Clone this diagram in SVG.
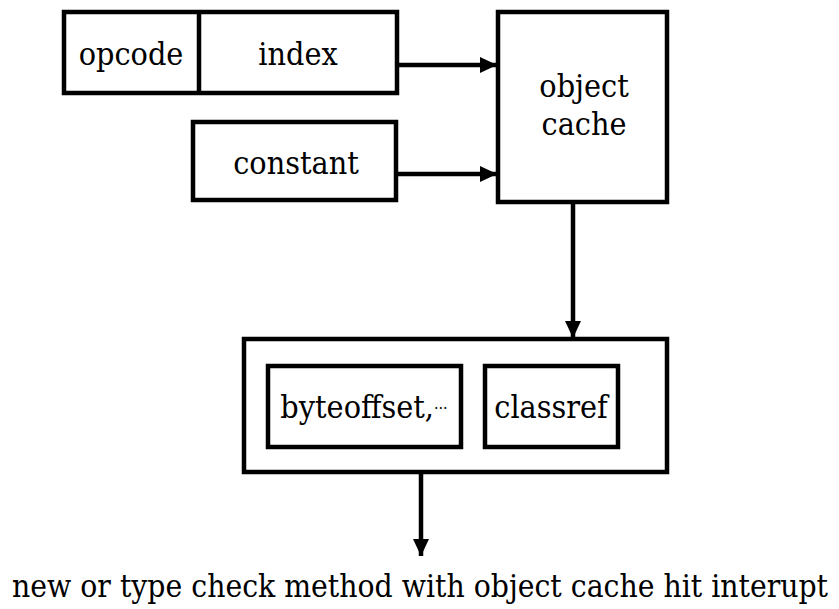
<svg xmlns="http://www.w3.org/2000/svg" width="839" height="609" viewBox="0 0 839 609">
  <style>
    .box { fill: #fff; stroke: #000; stroke-width: 4.5; }
    .lbl { font-size: 32px; fill: #000; text-anchor: middle; }
    .wire { stroke: #000; stroke-width: 4.5; fill: none; marker-end: url(#head); }
  </style>
  <defs>
    <marker id="head" viewBox="0 0 17 16" refX="17" refY="8" markerWidth="17" markerHeight="16" markerUnits="userSpaceOnUse" orient="auto">
      <path d="M0,0 L17,8 L0,16 z" fill="#000"/>
    </marker>
  </defs>

  <g font-family="DejaVu Serif Condensed, Liberation Serif, serif">
    <!-- instruction word: opcode + index -->
    <g id="instr">
      <rect class="box" x="64" y="12" width="333" height="81"/>
      <line x1="199" y1="12" x2="199" y2="93" stroke="#000" stroke-width="4.5"/>
      <text class="lbl" x="131" y="65">opcode</text>
      <text class="lbl" x="298" y="65">index</text>
    </g>

    <g id="constant">
      <rect class="box" x="193" y="122" width="203" height="78"/>
      <text class="lbl" x="296" y="174">constant</text>
    </g>

    <g id="cache">
      <rect class="box" x="498" y="12" width="169" height="190"/>
      <text class="lbl" x="584" y="97">object</text>
      <text class="lbl" x="584" y="135">cache</text>
    </g>

    <g id="entry">
      <rect class="box" x="244" y="339" width="423" height="133"/>
    </g>
    <g id="byteoffset">
      <rect class="box" x="268" y="366" width="193" height="81"/>
      <text class="lbl" x="364" y="418">byteoffset,<tspan font-size="16" dy="-4">···</tspan></text>
    </g>
    <g id="classref">
      <rect class="box" x="485" y="366" width="133" height="81"/>
      <text class="lbl" x="551" y="418">classref</text>
    </g>

    <g id="result">
      <text class="lbl" x="420" y="597" font-size="34" textLength="816" lengthAdjust="spacingAndGlyphs">new or type check method with object cache hit interupt</text>
    </g>
  </g>

  <g id="connectors">
    <line class="wire" x1="397" y1="65" x2="497" y2="65"/>
    <line class="wire" x1="396" y1="174" x2="497" y2="174"/>
    <line class="wire" x1="573" y1="202" x2="573" y2="338"/>
    <line class="wire" x1="421" y1="472" x2="421" y2="556"/>
  </g>
</svg>
